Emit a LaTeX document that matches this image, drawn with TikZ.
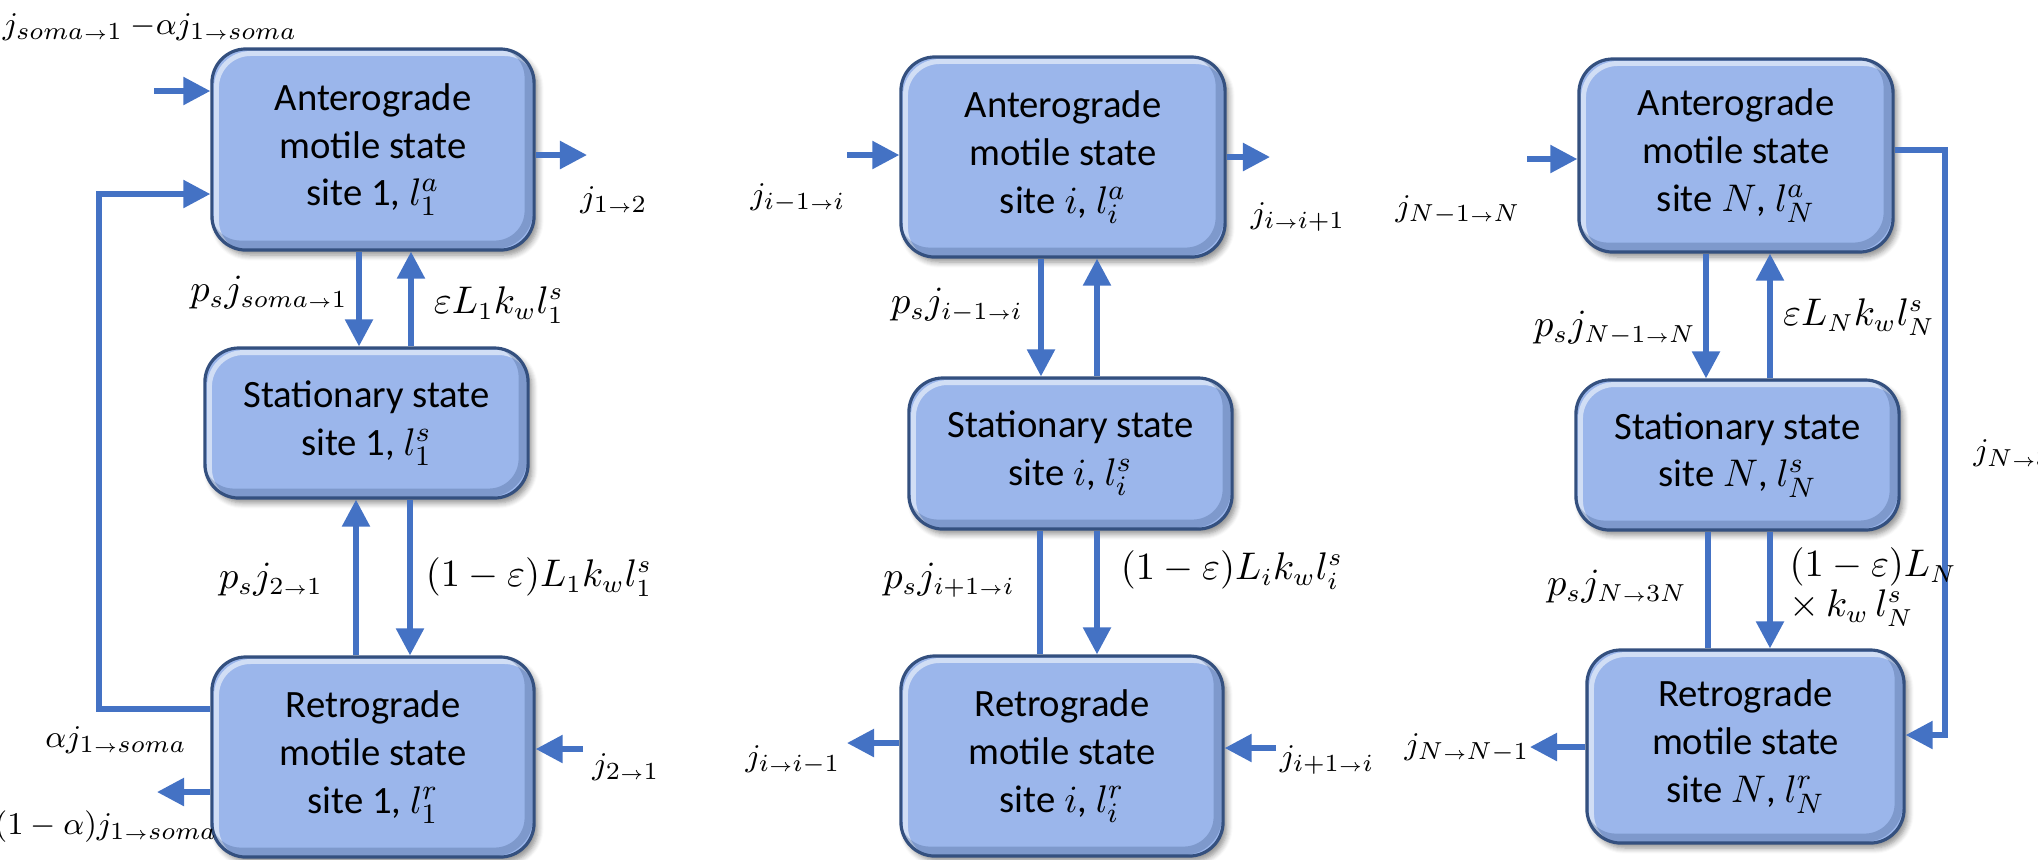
\documentclass[tikz,border=0pt]{standalone}
\usepackage{fontspec}
\setmainfont{Carlito}
\usetikzlibrary{arrows.meta,shadows.blur}
\definecolor{arrowblue}{HTML}{4472C4}
\definecolor{boxfill}{HTML}{9BB6EB}
\definecolor{boxedge}{HTML}{34507F}
\newcommand{\ra}{{\scriptscriptstyle\rightarrow}}
\begin{document}
\begin{tikzpicture}[x=0.01cm,y=-0.01cm,
  statebox/.style={draw=boxedge, line width=0.9pt, fill=boxfill, rounded corners=0.34cm,
    align=center, font=\fontsize{11}{13.6}\selectfont, inner sep=0pt,
    blur shadow={shadow xshift=1.1pt, shadow yshift=-1.4pt, shadow blur radius=1.6pt, shadow blur steps=6, shadow opacity=45},
    path picture={
      \draw[white, opacity=0.55, line width=1.4pt, rounded corners=0.34cm]
        ([shift={(1.3pt,-1.3pt)}]path picture bounding box.north west) rectangle
        ([shift={(1.3pt,-1.3pt)}]path picture bounding box.south east);
      \draw[boxedge, opacity=0.28, line width=2.4pt, rounded corners=0.34cm]
        ([shift={(-1.5pt,1.5pt)}]path picture bounding box.north west) rectangle
        ([shift={(-1.5pt,1.5pt)}]path picture bounding box.south east);
    }},
  flow/.style={draw=arrowblue, line width=1.56pt, -{Triangle[length=0.27cm,width=0.27cm]}},
  plainflow/.style={draw=arrowblue, line width=1.56pt},
  flux/.style={font=\fontsize{10.5}{11.4}\selectfont, inner sep=0pt},
  small/.style={font=\fontsize{9.5}{10}\selectfont, inner sep=0pt}]
\useasboundingbox (0,0) rectangle (2038,859);
% ---------- boxes ----------
\node[statebox, minimum width=3.22cm, minimum height=2.01cm] (A1) at (373,149.5) {Anterograde\\motile state\\site 1, $l_1^a$};
\node[statebox, minimum width=3.23cm, minimum height=1.50cm] (S1) at (366.5,423) {Stationary state\\site 1, $l_1^s$};
\node[statebox, minimum width=3.22cm, minimum height=2.00cm] (R1) at (373,757) {Retrograde\\motile state\\site 1, $l_1^r$};
\node[statebox, minimum width=3.24cm, minimum height=2.00cm] (Ai) at (1063,157) {Anterograde\\motile state\\site $i$, $l_i^a$};
\node[statebox, minimum width=3.23cm, minimum height=1.51cm] (Si) at (1070.5,453.5) {Stationary state\\site $i$, $l_i^s$};
\node[statebox, minimum width=3.22cm, minimum height=2.00cm] (Ri) at (1062,756) {Retrograde\\motile state\\site $i$, $l_i^r$};
\node[statebox, minimum width=3.14cm, minimum height=1.93cm] (AN) at (1736,155.5) {Anterograde\\motile state\\site $N$, $l_N^a$};
\node[statebox, minimum width=3.23cm, minimum height=1.50cm] (SN) at (1737.5,455) {Stationary state\\site $N$, $l_N^s$};
\node[statebox, minimum width=3.17cm, minimum height=1.93cm] (RN) at (1745.5,746.5) {Retrograde\\motile state\\site $N$, $l_N^r$};
% ---------- free ends ----------
\coordinate (inA1) at (154,91);
\coordinate (outA1) at (587,155);
\coordinate (inR1) at (583,749);
\coordinate (outR1) at (157,792);
\coordinate (loopB) at (99,709);
\coordinate (loopT) at (99,194);
\coordinate (inAi) at (847,155);
\coordinate (outAi) at (1270,157);
\coordinate (outRi) at (847,743);
\coordinate (inRi) at (1276,748);
\coordinate (inAN) at (1527,159);
\coordinate (loopNT) at (1945,150);
\coordinate (loopNB) at (1945,735);
\coordinate (outRN) at (1530,747);
% ---------- column 1 ----------
\draw[flow] (inA1) -- (A1.west |- inA1);
\draw[flow] (A1.east |- outA1) -- (outA1);
\draw[flow] (A1.south -| 359,0) -- (S1.north -| 359,0);
\draw[flow] (S1.north -| 411,0) -- (A1.south -| 411,0);
\draw[flow] (R1.north -| 356,0) -- (S1.south -| 356,0);
\draw[flow] (S1.south -| 410,0) -- (R1.north -| 410,0);
\draw[flow] (R1.west |- loopB) -- (loopB) -- (loopT) -- (A1.west |- loopT);
\draw[flow] (inR1) -- (R1.east |- inR1);
\draw[flow] (R1.west |- outR1) -- (outR1);
% ---------- column 2 ----------
\draw[flow] (inAi) -- (Ai.west |- inAi);
\draw[flow] (Ai.east |- outAi) -- (outAi);
\draw[flow] (Ai.south -| 1041,0) -- (Si.north -| 1041,0);
\draw[flow] (Si.north -| 1097,0) -- (Ai.south -| 1097,0);
\draw[plainflow] (Si.south -| 1040,0) -- (Ri.north -| 1040,0);
\draw[flow] (Si.south -| 1097,0) -- (Ri.north -| 1097,0);
\draw[flow] (Ri.west |- outRi) -- (outRi);
\draw[flow] (inRi) -- (Ri.east |- inRi);
% ---------- column 3 ----------
\draw[flow] (inAN) -- (AN.west |- inAN);
\draw[flow] (AN.east |- loopNT) -- (loopNT) -- (loopNB) -- (RN.east |- loopNB);
\draw[flow] (AN.south -| 1706,0) -- (SN.north -| 1706,0);
\draw[flow] (SN.north -| 1770,0) -- (AN.south -| 1770,0);
\draw[plainflow] (SN.south -| 1708,0) -- (RN.north -| 1708,0);
\draw[flow] (SN.south -| 1770,0) -- (RN.north -| 1770,0);
\draw[flow] (RN.west |- outRN) -- (outRN);
% ---------- labels column 1 ----------
\node[small, font=\fontsize{9.3}{10}\selectfont] (t1) at (150,27) {$j_{soma\ra 1}\ {-}\alpha j_{1\ra soma}$};
\node[small] (t2) at (614,200) {$j_{1\ra 2}$};
\node[flux] (t3) at (269,293) {$p_s j_{soma\ra 1}$};
\node[flux] (t4) at (499,305) {$\varepsilon L_1 k_w l_1^s$};
\node[flux] (t5) at (271,580) {$p_s j_{2\ra 1}$};
\node[flux] (t6) at (539,577) {$(1-\varepsilon)L_1 k_w l_1^s$};
\node[small] (t7) at (116,740) {$\alpha j_{1\ra soma}$};
\node[small] (t8) at (626,767) {$j_{2\ra 1}$};
\node[small] (t9) at (106,827) {$(1-\alpha)j_{1\ra soma}$};
% ---------- labels column 2 ----------
\node[small] (u1) at (798,198) {$j_{i-1\ra i}$};
\node[small] (u2) at (1298,217) {$j_{i\ra i+1}$};
\node[flux] (u3) at (957,305) {$p_s j_{i-1\ra i}$};
\node[flux] (u4) at (949,580) {$p_s j_{i+1\ra i}$};
\node[flux] (u5) at (1232,570) {$(1-\varepsilon)L_i k_w l_i^s$};
\node[small] (u6) at (793,760) {$j_{i\ra i-1}$};
\node[small] (u7) at (1327,760) {$j_{i+1\ra i}$};
% ---------- labels column 3 ----------
\node[small] (v1) at (1458,210) {$j_{N-1\ra N}$};
\node[flux] (v2) at (1615,328) {$p_s j_{N-1\ra N}$};
\node[flux] (v3) at (1859,317) {$\varepsilon L_N k_w l_N^s$};
\node[flux] (v4) at (1617,587) {$p_s j_{N\ra 3N}$};
\node[flux, anchor=west, align=left] (v5) at (1789,587) {$(1-\varepsilon)L_N$\\$\times\, k_w\, l_N^s$};
\node[small] (v6) at (1467,748) {$j_{N\ra N-1}$};
\node[small, anchor=west] (v7) at (1973,453) {$j_{N\ra 3N}$};
\end{tikzpicture}
\end{document}
